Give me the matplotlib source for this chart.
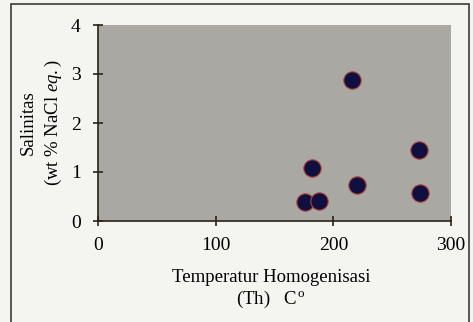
import matplotlib
matplotlib.use("Agg")
import matplotlib.pyplot as plt
from matplotlib.patches import Rectangle

temperature = [176, 188, 182, 216, 220, 273, 274]
salinity = [0.38, 0.40, 1.08, 2.88, 0.73, 1.45, 0.57]
xticks = [0, 100, 200, 300]
yticks = [0, 1, 2, 3, 4]

plt.rcParams['font.family'] = ['Liberation Serif', 'DejaVu Serif']
plt.rcParams['mathtext.fontset'] = 'custom'
plt.rcParams['mathtext.rm'] = 'Liberation Serif'
plt.rcParams['mathtext.it'] = 'Liberation Serif:italic'

W, H = 473, 322
fig = plt.figure(figsize=(W/100, H/100), dpi=100)
fig.patch.set_facecolor('#f4f4f1')

ax = fig.add_axes([98/W, 1-221/H, (451-98)/W, (221-25)/H])
ax.set_facecolor('#a9a8a3')
ax.plot(temperature, salinity, 'o', ms=12.5, mfc='#0f1040', mec='#b04236', mew=0.8, clip_on=False)
ax.set_xlim(0, 300)
ax.set_ylim(0, 4)
ax.set_xticks(xticks)
ax.set_yticks(yticks)
for s in ['top', 'right']:
    ax.spines[s].set_visible(False)
for s in ['left', 'bottom']:
    ax.spines[s].set_color('#2a2216')
    ax.spines[s].set_linewidth(1.2)
ax.tick_params(direction='inout', length=7, width=1.2, color='#2a2216', labelsize=14)
ax.tick_params(axis='x', pad=8)
ax.tick_params(axis='y', pad=9)

fig.text(28/W, 1-123/H, 'Salinitas', rotation=90, ha='center', va='center', fontsize=13.5)
fig.text(53/W, 1-123/H, r'(wt % NaCl $\mathit{eq.}$)', rotation=90, ha='center', va='center', fontsize=13.5)
fig.text(271/W, 1-277/H, 'Temperatur Homogenisasi', ha='center', va='center', fontsize=13.5)
fig.text(271/W, 1-299/H, r'(Th)   C$^{\,\mathrm{o}}$', ha='center', va='center', fontsize=13.5)

fig.patches.append(Rectangle((11/W, -0.01), (469-11)/W, (1-4/H)+0.01, transform=fig.transFigure,
                             fill=False, edgecolor='#3a3a3a', linewidth=1.2))

fig.savefig('out.png', dpi=100, facecolor=fig.get_facecolor())
